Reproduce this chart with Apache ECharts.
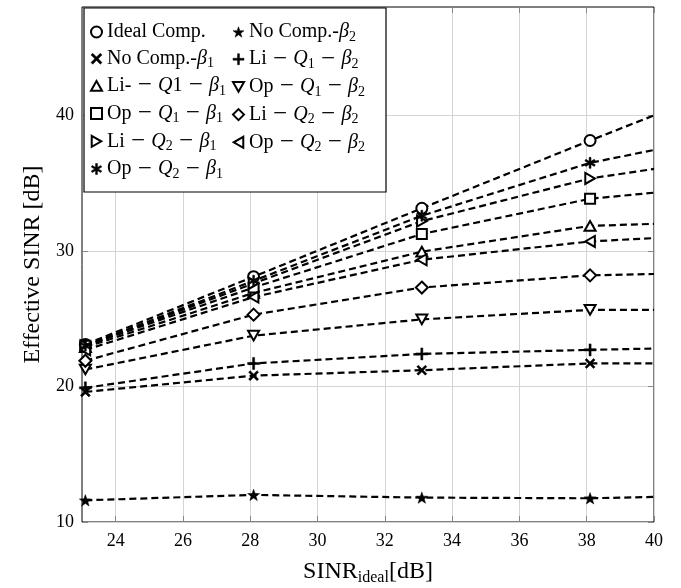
<!DOCTYPE html>
<html>
<head>
<meta charset="utf-8">
<script src="https://cdn.jsdelivr.net/npm/echarts@6/dist/echarts.min.js"></script>
<style>
  html, body { margin: 0; padding: 0; background: #fff; }
  #chart { width: 681px; height: 588px; }
</style>
</head>
<body>
<div id="chart"></div>
<script>
// x positions of the simulated points (last one is the line end, no marker)
const xVals = [23.1, 28.1, 33.1, 38.1, 40];

// effective SINR [dB] for each scheme
const idealComp = [23.1, 28.1, 33.15, 38.15, 40];
const noCompB2 = [11.6, 12.0, 11.8, 11.75, 11.85];
const noCompB1 = [19.6, 20.8, 21.2, 21.7, 21.7];
const liQ1B2 = [19.9, 21.7, 22.4, 22.7, 22.8];
const liQ1B1 = [22.9, 26.9, 29.95, 31.85, 32.0];
const opQ1B2 = [21.25, 23.75, 24.95, 25.65, 25.65];
const opQ1B1 = [23.0, 27.3, 31.25, 33.85, 34.3];
const liQ2B2 = [21.9, 25.3, 27.3, 28.2, 28.3];
const liQ2B1 = [23.0, 27.6, 32.2, 35.35, 36.05];
const opQ2B2 = [22.7, 26.6, 29.35, 30.7, 30.95];
const opQ2B1 = [23.0, 27.8, 32.6, 36.5, 37.45];

const xTicks = [24, 26, 28, 30, 32, 34, 36, 38, 40];
const yTicks = [10, 20, 30, 40];

// marker shapes
const starPath = 'path://M0,-1L0.235,-0.324L0.951,-0.309L0.38,0.124L0.588,0.809L0,0.4L-0.588,0.809L-0.38,0.124L-0.951,-0.309L-0.235,-0.324Z';
const crossPath = 'path://M0.834,0.58L0.58,0.834L-0.834,-0.58L-0.58,-0.834Z M0.58,-0.834L0.834,-0.58L-0.58,0.834L-0.834,0.58Z';
const plusPath = 'path://M-1,-0.17L1,-0.17L1,0.17L-1,0.17Z M-0.17,-1L0.17,-1L0.17,1L-0.17,1Z';
const asterPath = 'path://M-0.17,-1L0.17,-1L0.17,1L-0.17,1Z M0.951,0.353L0.781,0.647L-0.951,-0.353L-0.781,-0.647Z M0.781,-0.647L0.951,-0.353L-0.781,0.647L-0.951,0.353Z';
const triUp = 'path://M0,-0.87L1,0.87L-1,0.87Z';
const triDown = 'path://M-1,-0.87L1,-0.87L0,0.87Z';
const triRight = 'path://M-0.87,-1L0.87,0L-0.87,1Z';
const triLeft = 'path://M0.87,-1L0.87,1L-0.87,0Z';

const seriesDefs = [
  { name: 'Ideal Comp.', data: idealComp, symbol: 'circle', size: 11, fill: '#fff' },
  { name: 'No Comp.-b2', data: noCompB2, symbol: starPath, size: 12, fill: '#000' },
  { name: 'No Comp.-b1', data: noCompB1, symbol: crossPath, size: 10, fill: '#000' },
  { name: 'Li-Q1-b2', data: liQ1B2, symbol: plusPath, size: 12, fill: '#000' },
  { name: 'Li--Q1-b1', data: liQ1B1, symbol: triUp, size: 11, fill: '#fff' },
  { name: 'Op-Q1-b2', data: opQ1B2, symbol: triDown, size: 11, fill: '#fff' },
  { name: 'Op-Q1-b1', data: opQ1B1, symbol: 'rect', size: 10, fill: '#fff' },
  { name: 'Li-Q2-b2', data: liQ2B2, symbol: 'diamond', size: 12, fill: '#fff' },
  { name: 'Li-Q2-b1', data: liQ2B1, symbol: triRight, size: 11, fill: '#fff' },
  { name: 'Op-Q2-b2', data: opQ2B2, symbol: triLeft, size: 11, fill: '#fff' },
  { name: 'Op-Q2-b1', data: opQ2B1, symbol: asterPath, size: 11, fill: '#000' }
];

// math-style minus, a little larger than the text
const M = '{m| − }';
const legendText = {
  'Ideal Comp.': 'Ideal Comp.',
  'No Comp.-b2': 'No Comp.-{i|β}{s|2}',
  'No Comp.-b1': 'No Comp.-{i|β}{s|1}',
  'Li-Q1-b2': 'Li' + M + '{i|Q}{s|1}' + M + '{i|β}{s|2}',
  'Li--Q1-b1': 'Li-' + M + '{i|Q}1' + M + '{i|β}{s|1}',
  'Op-Q1-b2': 'Op' + M + '{i|Q}{s|1}' + M + '{i|β}{s|2}',
  'Op-Q1-b1': 'Op' + M + '{i|Q}{s|1}' + M + '{i|β}{s|1}',
  'Li-Q2-b2': 'Li' + M + '{i|Q}{s|2}' + M + '{i|β}{s|2}',
  'Li-Q2-b1': 'Li' + M + '{i|Q}{s|2}' + M + '{i|β}{s|1}',
  'Op-Q2-b2': 'Op' + M + '{i|Q}{s|2}' + M + '{i|β}{s|2}',
  'Op-Q2-b1': 'Op' + M + '{i|Q}{s|2}' + M + '{i|β}{s|1}'
};

const serif = 'Liberation Serif';
const richText = {
  i: { fontFamily: serif, fontSize: 20, fontStyle: 'italic', color: '#000', lineHeight: 24 },
  s: { fontFamily: serif, fontSize: 14, color: '#000', padding: [10, 0, 0, 0], lineHeight: 24 },
  m: { fontFamily: serif, fontSize: 25, color: '#000', lineHeight: 24 }
};

const chart = echarts.init(document.getElementById('chart'));

const series = seriesDefs.map(function (d) {
  const hollow = d.fill === '#fff';
  return {
    name: d.name,
    type: 'line',
    symbol: d.symbol,
    symbolSize: d.size,
    symbolKeepAspect: true,
    showAllSymbol: true,
    animation: false,
    lineStyle: { color: '#000', width: 2.2, type: [7, 4] },
    itemStyle: { color: d.fill, borderColor: '#000', borderWidth: hollow ? 2 : 0.5 },
    data: xVals.map(function (x, k) {
      const item = { value: [x, d.data[k]] };
      if (k === xVals.length - 1) item.symbol = 'none';
      return item;
    }),
    z: 3
  };
});

function legendFor(names, left) {
  return {
    orient: 'vertical',
    left: left,
    top: 20,
    padding: 0,
    itemGap: 2.7,
    itemWidth: 11,
    itemHeight: 11,
    selectedMode: false,
    data: names.map(function (n) {
      const d = seriesDefs.find(function (s) { return s.name === n; });
      const hollow = d.fill === '#fff';
      return {
        name: n,
        icon: d.symbol,
        itemStyle: { color: d.fill, borderColor: '#000', borderWidth: hollow ? 2 : 0.5 }
      };
    }),
    formatter: function (n) { return legendText[n]; },
    textStyle: { fontFamily: serif, fontSize: 20, color: '#000', lineHeight: 24, rich: richText }
  };
}

const option = {
  backgroundColor: '#fff',
  animation: false,
  grid: {
    left: 82, right: 27, top: 7, bottom: 66,
    show: true, borderColor: '#000', borderWidth: 1,
    outerBoundsMode: 'none'
  },
  graphic: [{
    type: 'rect',
    shape: { x: 84, y: 8, width: 302, height: 184 },
    style: { fill: '#fff', stroke: '#000', lineWidth: 1.2 },
    z: 3
  }],
  legend: [
    legendFor(['Ideal Comp.', 'No Comp.-b1', 'Li--Q1-b1', 'Op-Q1-b1', 'Li-Q2-b1', 'Op-Q2-b1'], 90),
    legendFor(['No Comp.-b2', 'Li-Q1-b2', 'Op-Q1-b2', 'Li-Q2-b2', 'Op-Q2-b2'], 232)
  ],
  xAxis: [{
    type: 'value',
    min: 23, max: 40,
    name: 'SINR{s|ideal}[dB]',
    nameLocation: 'middle',
    nameGap: 36,
    nameTextStyle: {
      fontFamily: serif, fontSize: 24, color: '#000',
      rich: { s: { fontFamily: serif, fontSize: 16, color: '#000', padding: [12, 0, 0, 0] } }
    },
    axisLine: { show: false },
    axisTick: { show: true, inside: true, length: 6, customValues: xTicks, lineStyle: { color: '#888' } },
    axisLabel: { customValues: xTicks, fontFamily: serif, fontSize: 18, color: '#000', margin: 10 },
    splitLine: { show: true, lineStyle: { color: '#d4d4d4', width: 1 } }
  }, {
    type: 'value', position: 'top',
    min: 23, max: 40,
    axisLine: { show: false },
    axisTick: { show: true, inside: true, length: 6, customValues: xTicks, lineStyle: { color: '#888' } },
    axisLabel: { show: false },
    splitLine: { show: false }
  }],
  yAxis: [{
    type: 'value',
    min: 10, max: 48,
    name: 'Effective SINR [dB]',
    nameLocation: 'middle',
    nameGap: 37,
    nameTextStyle: { fontFamily: serif, fontSize: 24, color: '#000' },
    axisLine: { show: false },
    axisTick: { show: true, inside: true, length: 6, customValues: yTicks, lineStyle: { color: '#888' } },
    axisLabel: { customValues: yTicks, fontFamily: serif, fontSize: 18, color: '#000', margin: 8 },
    splitLine: { show: true, lineStyle: { color: '#d4d4d4', width: 1 } }
  }, {
    type: 'value', position: 'right',
    min: 10, max: 48,
    axisLine: { show: false },
    axisTick: { show: true, inside: true, length: 6, customValues: yTicks, lineStyle: { color: '#888' } },
    axisLabel: { show: false },
    splitLine: { show: false }
  }],
  series: series
};

chart.setOption(option);
</script>
</body>
</html>
